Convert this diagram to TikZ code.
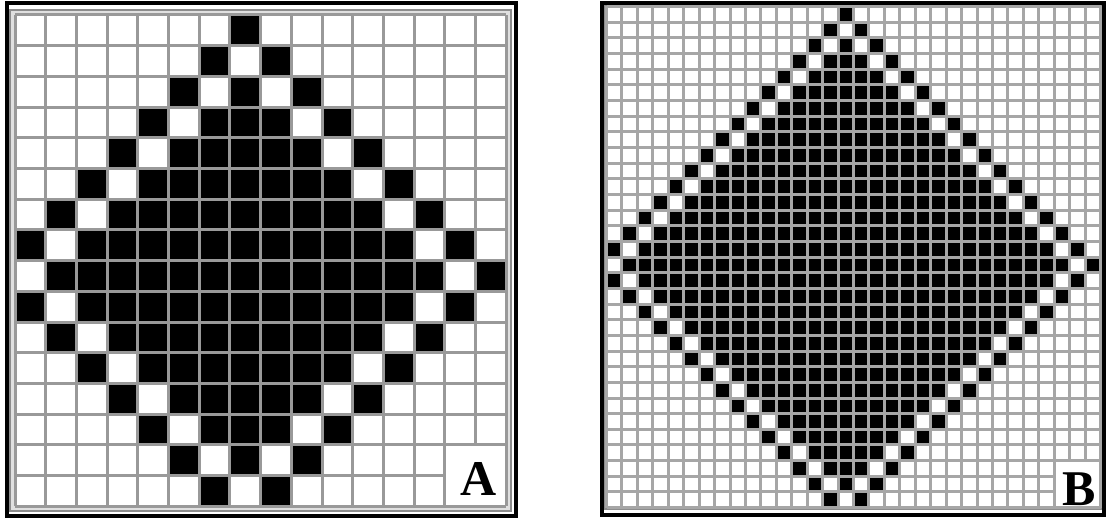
\documentclass[tikz,border=0pt]{standalone}
\usepackage{fontspec}
\setmainfont{Liberation Serif}

\tikzset{
  cellfill/.style={fill=black},
  gridline/.style={line width=3pt, color=black!40},
  gridlineB/.style={line width=3pt, color=black!35},
  outerframe/.style={line width=4pt, black},
  innerframe/.style={line width=1.5pt, color=black!45},
  panellabel/.style={font=\fontsize{50}{50}\selectfont\bfseries, inner sep=0pt}
}

\begin{document}
\begin{tikzpicture}[x=1pt, y=-1pt]
        \useasboundingbox (0,0) rectangle (1107,519);

        % Panel A frame
        \fill[black!12] (10,10) rectangle (511,511);
        \draw[innerframe] (10,10) rectangle (511,511);
        \draw[outerframe] (6.5,3.5) rectangle (515.5,515.5);

        % Panel A: 16 x 16 cells, diamond round (7,8)
        \begin{scope}[shift={(15pt,-15pt)}, x=30.7pt, y=-30.7pt]
            \fill[white] (0,0) rectangle (16,16);
            \foreach \r in {0,...,15}
                \foreach \c in {0,...,15} {
                    \pgfmathtruncatemacro{\celldist}{abs(\c-7)+abs(\r-8)}
                    \ifnum\celldist=8 \fill[cellfill] (\c,\r) rectangle ++(1,1); \fi
                    \ifnum\celldist<7 \fill[cellfill] (\c,\r) rectangle ++(1,1); \fi
                }
            \foreach \i in {0,...,16} {
                \draw[gridline] (\i,0) -- (\i,16);
                \draw[gridline] (0,\i) -- (16,\i);
            }
            \fill[white] ([shift={(1.5pt,-1.5pt)}]14,14) rectangle ([shift={(-1.5pt,1.5pt)}]16,16);
        \end{scope}
        \node[panellabel] (labelA) at (479,479) {A};

        % Panel B frame
        \draw[innerframe] (605,5.5) rectangle (1101.5,509);
        \draw[outerframe] (602,3) rectangle (1104,514.5);

        % Panel B: 32 x 32 cells, diamond round (15,16)
        \begin{scope}[shift={(606.5pt,-6.5pt)}, x=15.44pt, y=-15.66pt]
            \fill[white] (0,0) rectangle (32,32);
            \foreach \r in {0,...,31}
                \foreach \c in {0,...,31} {
                    \pgfmathtruncatemacro{\celldist}{abs(\c-15)+abs(\r-16)}
                    \ifnum\celldist=16 \fill[cellfill] (\c,\r) rectangle ++(1,1); \fi
                    \ifnum\celldist<15 \fill[cellfill] (\c,\r) rectangle ++(1,1); \fi
                }
            \foreach \i in {0,...,32} {
                \draw[gridlineB] (\i,0) -- (\i,32);
                \draw[gridlineB] (0,\i) -- (32,\i);
            }
            \fill[white] ([shift={(1.5pt,-1.5pt)}]29,29) rectangle ([shift={(-1.5pt,1.5pt)}]32,32);
        \end{scope}
        \node[panellabel] (labelB) at (1079.5,489) {B};
    \end{tikzpicture}
\end{document}
